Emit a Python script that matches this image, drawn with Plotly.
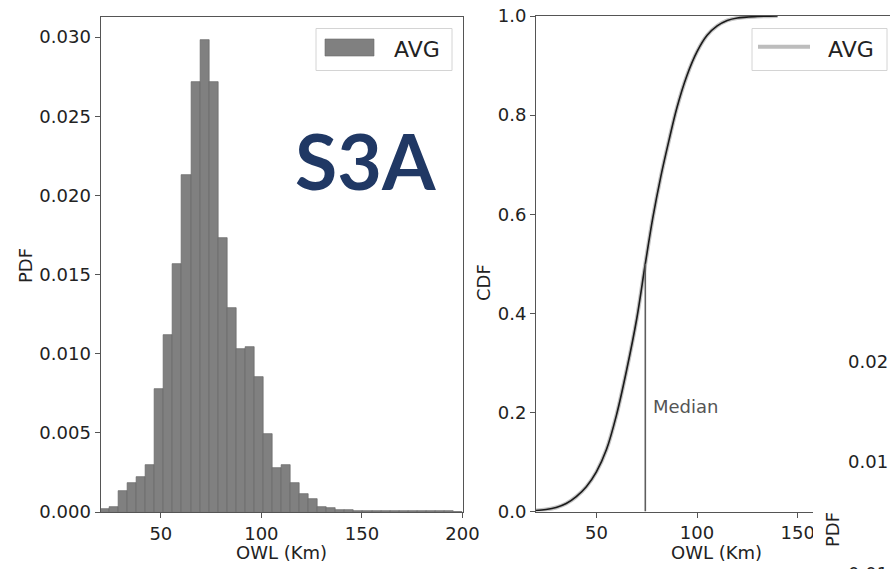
import plotly.graph_objects as go

# ---------------- data ----------------
BIN_START = 20.0
BIN_WIDTH = 4.5
pdf_values = [0.00017, 0.00030, 0.00133, 0.00183, 0.00221, 0.00297, 0.00777, 0.01116, 0.01564, 0.02126,
              0.02718, 0.02981, 0.02718, 0.01733, 0.01290, 0.01030, 0.01040, 0.00853, 0.00493, 0.00276,
              0.00297, 0.00183, 0.00112, 0.00080, 0.00034, 0.00023, 0.00013, 0.00010, 0.00006, 0.00005,
              0.00005, 0.00008, 0.00006, 0.00005, 0.00004, 0.00004, 0.00006, 0.00008, 0.00004, 0.00002]
bin_centers = [BIN_START + BIN_WIDTH * (i + 0.5) for i in range(len(pdf_values))]

cdf_x = [20, 25, 30, 35, 40, 45, 50, 55, 60, 65, 70, 74.3, 78, 82, 86, 90, 95, 100, 105, 110, 115, 120, 130, 140]
cdf_y = [0.002, 0.004, 0.008, 0.016, 0.030, 0.050, 0.080, 0.125, 0.195, 0.285, 0.388, 0.500, 0.592, 0.676,
         0.748, 0.815, 0.880, 0.928, 0.961, 0.980, 0.991, 0.996, 0.999, 1.0]
median_x = 74.3
median_y = 0.5

pdf_ticks = [0.0, 0.005, 0.010, 0.015, 0.020, 0.025, 0.030]
cdf_ticks = [0.0, 0.2, 0.4, 0.6, 0.8, 1.0]
x_ticks_left = [50, 100, 150, 200]
x_ticks_right = [50, 100, 150]

# ---------------- helpers ----------------
W, H = 890, 569
def px(x):
    return x / W
def py(y):
    return 1 - y / H

FONT = "DejaVu Sans"
AXC = "#555555"
TXT = "#222222"

fig = go.Figure()

fig.add_trace(go.Bar(
    x=bin_centers, y=pdf_values, width=BIN_WIDTH,
    marker=dict(color="#808080", line=dict(color="#666666", width=0.7)),
    xaxis="x", yaxis="y", name="AVG", showlegend=False))

fig.add_trace(go.Scatter(
    x=cdf_x, y=cdf_y, mode="lines", name="AVG",
    line=dict(color="#c4c4c4", width=4, shape="spline", smoothing=1.0),
    xaxis="x2", yaxis="y2", showlegend=False))
fig.add_trace(go.Scatter(
    x=cdf_x, y=cdf_y, mode="lines", name="fit",
    line=dict(color="#1a1a1a", width=1.6, shape="spline", smoothing=1.0),
    xaxis="x2", yaxis="y2", showlegend=False))
fig.add_trace(go.Scatter(
    x=[median_x, median_x], y=[0, median_y], mode="lines", name="Median",
    line=dict(color="#5e5e5e", width=1.6),
    xaxis="x2", yaxis="y2", showlegend=False))

axis_common = dict(showgrid=False, zeroline=False, showline=True, linecolor=AXC, linewidth=1,
                   ticks="outside", ticklen=5, tickcolor=AXC, tickwidth=1,
                   tickfont=dict(family=FONT, size=18, color=TXT), automargin=False)

fig.update_layout(
    width=W, height=H, margin=dict(l=0, r=0, t=0, b=0),
    paper_bgcolor="white", plot_bgcolor="white", bargap=0, showlegend=False,
    xaxis=dict(domain=[px(100.5), px(462.5)], range=[20, 200], tickvals=x_ticks_left,
               mirror=True, anchor="y", **axis_common),
    yaxis=dict(domain=[1 - 512 / H, 1 - 17 / H], range=[0, 0.03127], tickvals=pdf_ticks,
               tickformat=".3f", mirror=True, anchor="x", **axis_common),
    xaxis2=dict(domain=[px(536), 1.0], range=[20, 20 + (890 - 536) / 2.013], tickvals=x_ticks_right,
                mirror=True, anchor="y2", **axis_common),
    yaxis2=dict(domain=[1 - 511.5 / H, 1 - 16 / H], range=[0, 1.0], tickvals=cdf_ticks,
                tickformat=".1f", mirror=False, anchor="x2", **axis_common),
)

shapes = []
# overlay from neighbouring panel (covers part of right plot's bottom spine)
shapes.append(dict(type="rect", xref="paper", yref="paper", x0=px(813), x1=1.0, y0=0, y1=py(300),
                   fillcolor="white", line=dict(width=0), layer="above"))
# left legend
shapes.append(dict(type="rect", xref="paper", yref="paper", x0=px(316), x1=px(452), y0=py(70.5), y1=py(28.5),
                   fillcolor="white", line=dict(color="#d4d4d4", width=1), layer="above"))
shapes.append(dict(type="rect", xref="paper", yref="paper", x0=px(325), x1=px(374), y0=py(56), y1=py(39),
                   fillcolor="#808080", line=dict(color="#6a6a6a", width=0.6), layer="above"))
# right legend
shapes.append(dict(type="rect", xref="paper", yref="paper", x0=px(752), x1=px(887), y0=py(70.5), y1=py(28.5),
                   fillcolor="white", line=dict(color="#d4d4d4", width=1), layer="above"))
shapes.append(dict(type="line", xref="paper", yref="paper", x0=px(758), x1=px(810), y0=py(46.7), y1=py(46.7),
                   line=dict(color="#bdbdbd", width=4), layer="above"))
fig.update_layout(shapes=shapes)

ann = []
def a(text, x, y, size=18, color=TXT, xanchor="center", yanchor="middle", angle=0, family=FONT, **kw):
    ann.append(dict(text=text, x=px(x), y=py(y), xref="paper", yref="paper", showarrow=False,
                    xanchor=xanchor, yanchor=yanchor, textangle=angle,
                    font=dict(family=family, size=size, color=color), **kw))

a("PDF", 25, 266, angle=-90)
a("OWL (Km)", 281, 552)
a("CDF", 483, 283, angle=-90)
a("OWL (Km)", 716.5, 552)
a("AVG", 392, 49.5, size=22, xanchor="left")
a("AVG", 826, 49, size=22, xanchor="left")
a("<b>S3A</b>", 365, 160, size=77, color="#203864", family="Lato")
a("Median", 651, 406, size=18, color="#555555", xanchor="left")
# fragments of the neighbouring panel
a("0.02", 846, 361, xanchor="left")
a("0.01", 846, 461, xanchor="left")
a("PDF", 832, 530, angle=-90)
a("0.01", 846, 573, xanchor="left")
fig.update_layout(annotations=ann)

fig.write_html("out.html")
